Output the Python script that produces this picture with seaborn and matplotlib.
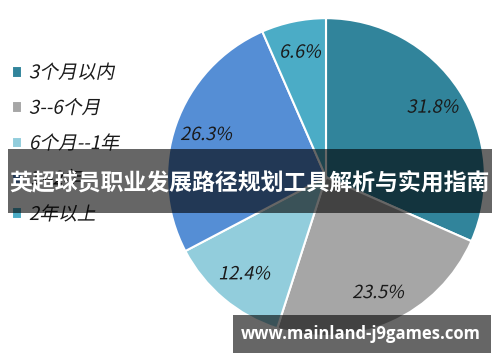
import matplotlib
matplotlib.use("Agg")
import matplotlib.pyplot as plt
import seaborn as sns
from matplotlib.patheffects import AbstractPathEffect
from matplotlib.transforms import Affine2D
from matplotlib.patches import Rectangle

categories = ["3个月以内", "3--6个月", "6个月--1年", "1--2年", "2年以上"]
values = [31.8, 23.5, 12.4, 26.3, 6.6]
colors = ["#31849b", "#a6a6a6", "#92cddc", "#558ed5", "#4bacc6"]
banner_text = "英超球员职业发展路径规划工具解析与实用指南"
watermark_text = "www.mainland-j9games.com"

sns.set_theme(style="white")
plt.rcParams["font.family"] = ["Noto Sans CJK SC", "DejaVu Sans"]


class Skew(AbstractPathEffect):
    """Fake italic by shearing glyph paths."""
    def __init__(self, deg=12):
        super().__init__()
        self.deg = deg

    def draw_path(self, renderer, gc, tpath, affine, rgbFace=None):
        renderer.draw_path(gc, tpath, Affine2D().skew_deg(self.deg, 0) + affine, rgbFace)


italic = [Skew(12)]

fig = plt.figure(figsize=(5, 3.62), dpi=100)
fig.patch.set_facecolor("white")

ax = fig.add_axes([0.334, 0.0718, 0.636, 0.878])
wedges, texts = ax.pie(
    values,
    colors=colors,
    startangle=90,
    counterclock=False,
    labels=[f"{v}%" for v in values],
    labeldistance=0.8,
    wedgeprops=dict(edgecolor="white", linewidth=1.5),
    textprops=dict(fontsize=13, color="#1a1a1a", ha="center", va="center"),
)
for t in texts:
    t.set_path_effects(italic)
    t.set_horizontalalignment("center")
ax.set_xlim(-1, 1)
ax.set_ylim(-1, 1)

leg = fig.legend(
    wedges, categories,
    loc="upper left", bbox_to_anchor=(0.024, 0.828),
    frameon=False, fontsize=13.5,
    handlelength=0.55, handleheight=0.6, handletextpad=0.35,
    labelspacing=0.77, borderaxespad=0, borderpad=0,
)
for t in leg.get_texts():
    t.set_path_effects(italic)
    t.set_color("#1a1a1a")

# banner overlay
fig.patches.append(Rectangle((8 / 500, 1 - 213 / 362), 484 / 500, 64 / 362,
                             transform=fig.transFigure, facecolor="black",
                             alpha=0.6, edgecolor="none", zorder=10))
fig.text(250 / 500, 1 - 183 / 362, banner_text, color="white", fontsize=16.5,
         fontweight="bold", ha="center", va="center", zorder=11)

# watermark overlay
fig.patches.append(Rectangle((233 / 500, 1 - 353 / 362), 258 / 500, 38 / 362,
                             transform=fig.transFigure, facecolor="black",
                             alpha=0.6, edgecolor="none", zorder=10))
fig.text(361 / 500, 1 - 334 / 362, watermark_text, color="white", fontsize=12,
         fontweight="bold", ha="center", va="center", zorder=11,
         family=["Open Sans", "DejaVu Sans"])

fig.savefig("out.png", dpi=100)
